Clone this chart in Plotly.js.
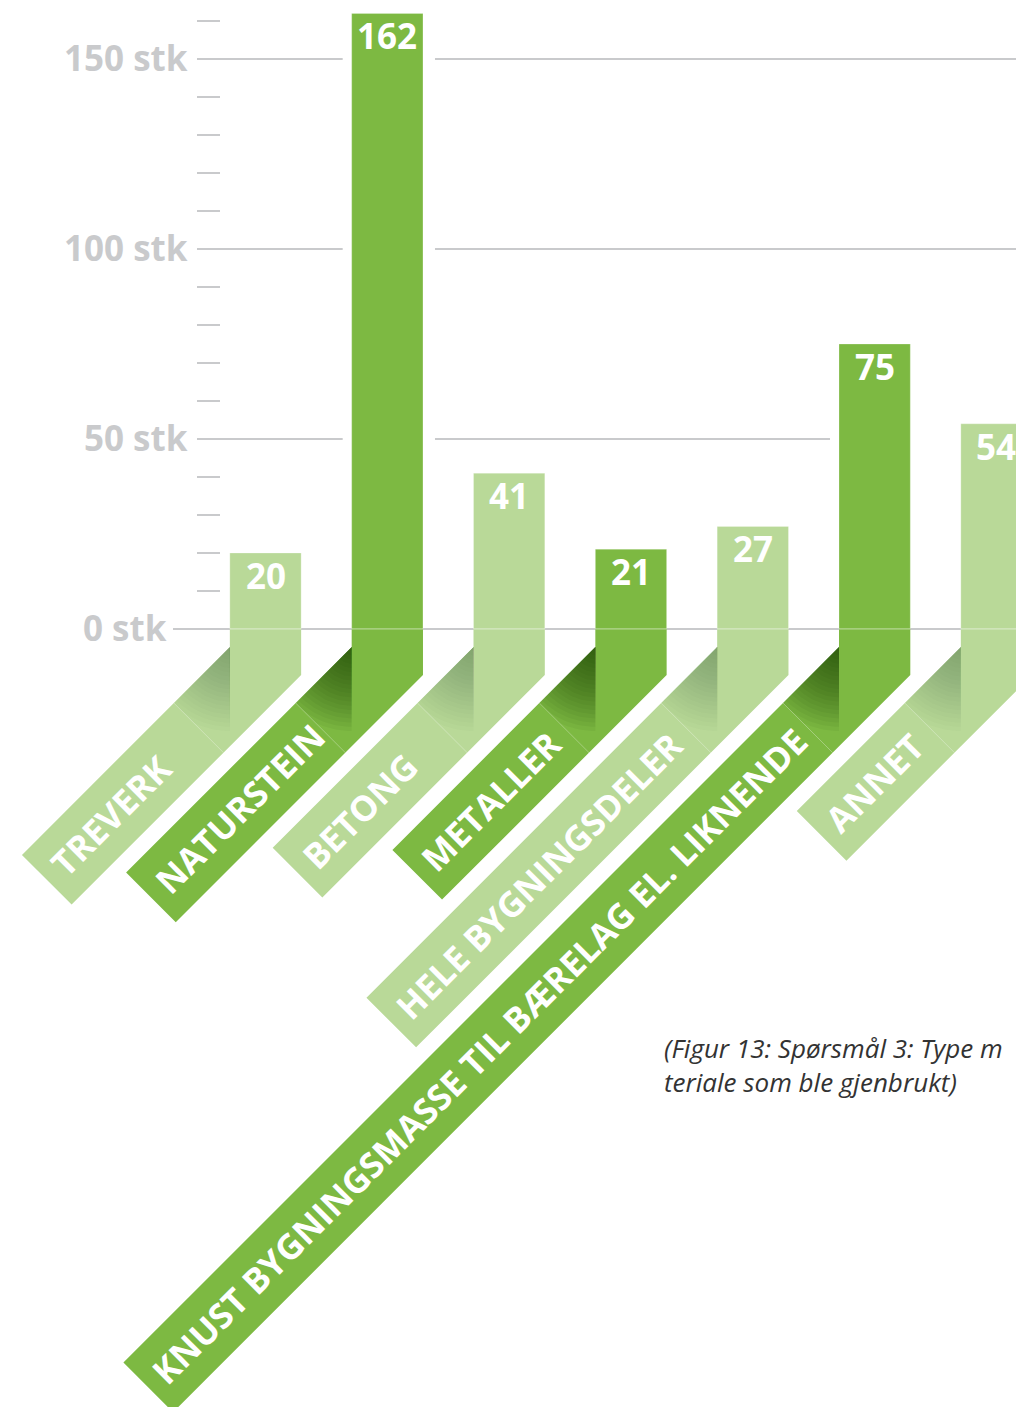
<!DOCTYPE html>
<html><head><meta charset="utf-8">
<script src="https://cdn.plot.ly/plotly-3.0.1.min.js"></script>
<style>html,body{margin:0;padding:0;background:#fff;overflow:hidden}#chart{width:1016px;height:1407px}</style>
</head><body><div id="chart"></div>
<script>
// ---------- data ----------
const categories = ['TREVERK','NATURSTEIN','BETONG','METALLER','HELE BYGNINGSDELER','KNUST BYGNINGSMASSE TIL BÆRELAG EL. LIKNENDE','ANNET'];
const values = [20,162,41,21,27,75,54];
const tickValues = [0,50,100,150];
const tickLabels = ['0 stk','50 stk','100 stk','150 stk'];
const captionText = '(Figur 13: Spørsmål 3: Type m<br>teriale som ble gjenbrukt)';

// ---------- layout / style constants ----------
const W = 1016, H = 1407;
const STEP = 121.83, FIRST = 265.5;          // px between bar centres, first centre
const X0 = -FIRST / STEP, X1 = (W - FIRST) / STEP;
const ZERO = 629, PPU = 3.8;                 // px of value 0, px per unit
const Y1 = ZERO / PPU, Y0 = -(H - ZERO) / PPU;
const BARW = 71.3 / STEP;
const ribbonLen = [294, 319, 284, 287, 496, 1012, 232];   // ribbon length (px, style)
const LIGHT = '#b9d998', DARK = '#7db942';
const SH_LIGHT = 'rgba(70,100,65,', SH_DARK = 'rgba(28,66,8,';
const GREY = '#c9cacc';
const SQ = Math.SQRT2;

const pxX = u => (u - X0) / (X1 - X0) * W;
const dX = p => X0 + p / W * (X1 - X0);
const pxY = v => (Y1 - v) / (Y1 - Y0) * H;
const dY = p => Y1 - p / H * (Y1 - Y0);

const isDark = i => i % 2 === 1;
const barColors = categories.map((c, i) => isDark(i) ? DARK : LIGHT);

const traces = [];
traces.push({
  type: 'bar', x: categories.map((c, i) => i), y: values, width: BARW,
  marker: {color: barColors, line: {color: 'rgba(255,255,255,0.25)', width: 1}},
  hoverinfo: 'skip', showlegend: false
});

function poly(pts, color) {
  return {type: 'scatter', mode: 'lines', x: pts.map(p => dX(p[0])), y: pts.map(p => dY(p[1])),
    fill: 'toself', fillcolor: color, line: {width: 0, color: color}, hoverinfo: 'skip', showlegend: false};
}

const annotations = [];
const shapes = [];

categories.forEach((cat, i) => {
  const L = pxX(i - BARW / 2), R = pxX(i + BARW / 2), Z = pxY(0);
  const col = barColors[i];
  const A = [L, Z + 18];
  const k1 = A[0] + A[1];
  const k2 = R + Z + 46;
  const half = (k2 - k1) / 2;
  const s = ribbonLen[i] / SQ;
  const B = [L - s, A[1] + s];
  const C = [B[0] + half, B[1] + half];
  // ribbon + fold
  traces.push(poly([[L, Z], [R, Z], [R, Z + 46], C, B, A], col));
  // shadow (layered sectors around A)
  const cT = [L - 56, A[1] + 56];
  const cB = [cT[0] + half, cT[1] + half];
  const cc = cT[1] - cT[0];
  const n = 20;
  const amax = isDark(i) ? 0.66 : 0.45;
  const a = 1 - Math.pow(1 - amax, 1 / n);
  const base = isDark(i) ? SH_DARK : SH_LIGHT;
  for (let k = 1; k <= n; k++) {
    const r = 4.2 * k;
    const pts = [A];
    for (let j = 0; j <= 18; j++) {
      const th = Math.PI / 2 + (Math.PI / 4) * j / 18;
      const cx = Math.cos(th), sy = Math.sin(th);
      let t = r;
      const den1 = cx + sy;
      if (den1 > 1e-9) t = Math.min(t, (k2 - k1) / den1);
      const den2 = sy - cx;
      if (den2 > 1e-9) t = Math.min(t, (cc - (A[1] - A[0])) / den2);
      pts.push([A[0] + cx * t, A[1] + sy * t]);
    }
    traces.push(poly(pts, base + a.toFixed(4) + ')'));
  }
  // crease
  traces.push({type: 'scatter', mode: 'lines', x: [dX(cT[0]), dX(cB[0])], y: [dY(cT[1]), dY(cB[1])],
    line: {color: 'rgba(255,255,255,0.3)', width: 1}, hoverinfo: 'skip', showlegend: false});
  // light line at zero across bar
  shapes.push({type: 'line', xref: 'x', yref: 'y', x0: i - BARW / 2, x1: i + BARW / 2, y0: 0, y1: 0,
    line: {color: 'rgba(255,255,255,0.3)', width: 1.5}, layer: 'above'});
  // ribbon label
  const cap = [(B[0] + C[0]) / 2, (B[1] + C[1]) / 2];
  const off = 12 - 25;
  const P = [cap[0] + off / SQ, cap[1] - off / SQ];
  annotations.push({x: dX(P[0]), y: dY(P[1]), xref: 'x', yref: 'y', xanchor: 'left', yanchor: 'bottom',
    text: cat, showarrow: false, textangle: -45,
    font: {family: 'Open Sans', size: 35, color: '#ffffff', weight: 700}});
  // value label
  annotations.push({x: i, y: values[i], xref: 'x', yref: 'y', xanchor: 'center', yanchor: 'top', yshift: 3,
    text: String(values[i]), showarrow: false,
    font: {family: 'Open Sans', size: 35, color: '#ffffff', weight: 700}});
});

// gridlines with gaps around taller bars
const GX0 = 197;
tickValues.forEach((g, j) => {
  if (g === 0) {
    shapes.push({type: 'line', xref: 'paper', yref: 'y', x0: 173 / W, x1: 1, y0: 0, y1: 0,
      line: {color: GREY, width: 2}, layer: 'below'});
  } else {
    const blocked = [];
    values.forEach((v, i) => { if (v > g) blocked.push([pxX(i - BARW / 2) - 9, pxX(i + BARW / 2) + 12]); });
    let start = GX0;
    const segs = [];
    blocked.forEach(b => { if (b[0] > start) segs.push([start, b[0]]); start = Math.max(start, b[1]); });
    if (start < W) segs.push([start, W]);
    segs.filter(sg => sg[1] - sg[0] > 40).forEach(sg => shapes.push({type: 'line', xref: 'paper', yref: 'y',
      x0: sg[0] / W, x1: sg[1] / W, y0: g, y1: g, line: {color: GREY, width: 2}, layer: 'below'}));
  }
  annotations.push({x: (g === 0 ? 169 : 190) / W, y: g, xref: 'paper', yref: 'y', xanchor: 'right', yanchor: 'middle',
    yshift: 2, text: tickLabels[j], showarrow: false,
    font: {family: 'Open Sans', size: 35, color: GREY, weight: 700}});
});
// minor tick dashes
for (let v = 10; v <= 160; v += 10) {
  if (tickValues.indexOf(v) >= 0) continue;
  shapes.push({type: 'line', xref: 'paper', yref: 'y', x0: 197 / W, x1: 220 / W, y0: v, y1: v,
    line: {color: GREY, width: 2}, layer: 'below'});
}

annotations.push({x: 662 / W, y: (H - 1028) / H, xref: 'paper', yref: 'paper', xanchor: 'left', yanchor: 'top',
  align: 'left', text: captionText, showarrow: false,
  font: {family: 'Open Sans', size: 26, color: '#333333', style: 'italic'}});

const layout = {
  width: W, height: H, margin: {l: 0, r: 0, t: 0, b: 0}, autosize: false,
  paper_bgcolor: '#ffffff', plot_bgcolor: '#ffffff', showlegend: false, hovermode: false,
  xaxis: {range: [X0, X1], visible: false, fixedrange: true},
  yaxis: {range: [Y0, Y1], visible: false, fixedrange: true},
  shapes: shapes, annotations: annotations, bargap: 0
};
Plotly.newPlot('chart', traces, layout, {staticPlot: true, displayModeBar: false});
</script></body></html>
